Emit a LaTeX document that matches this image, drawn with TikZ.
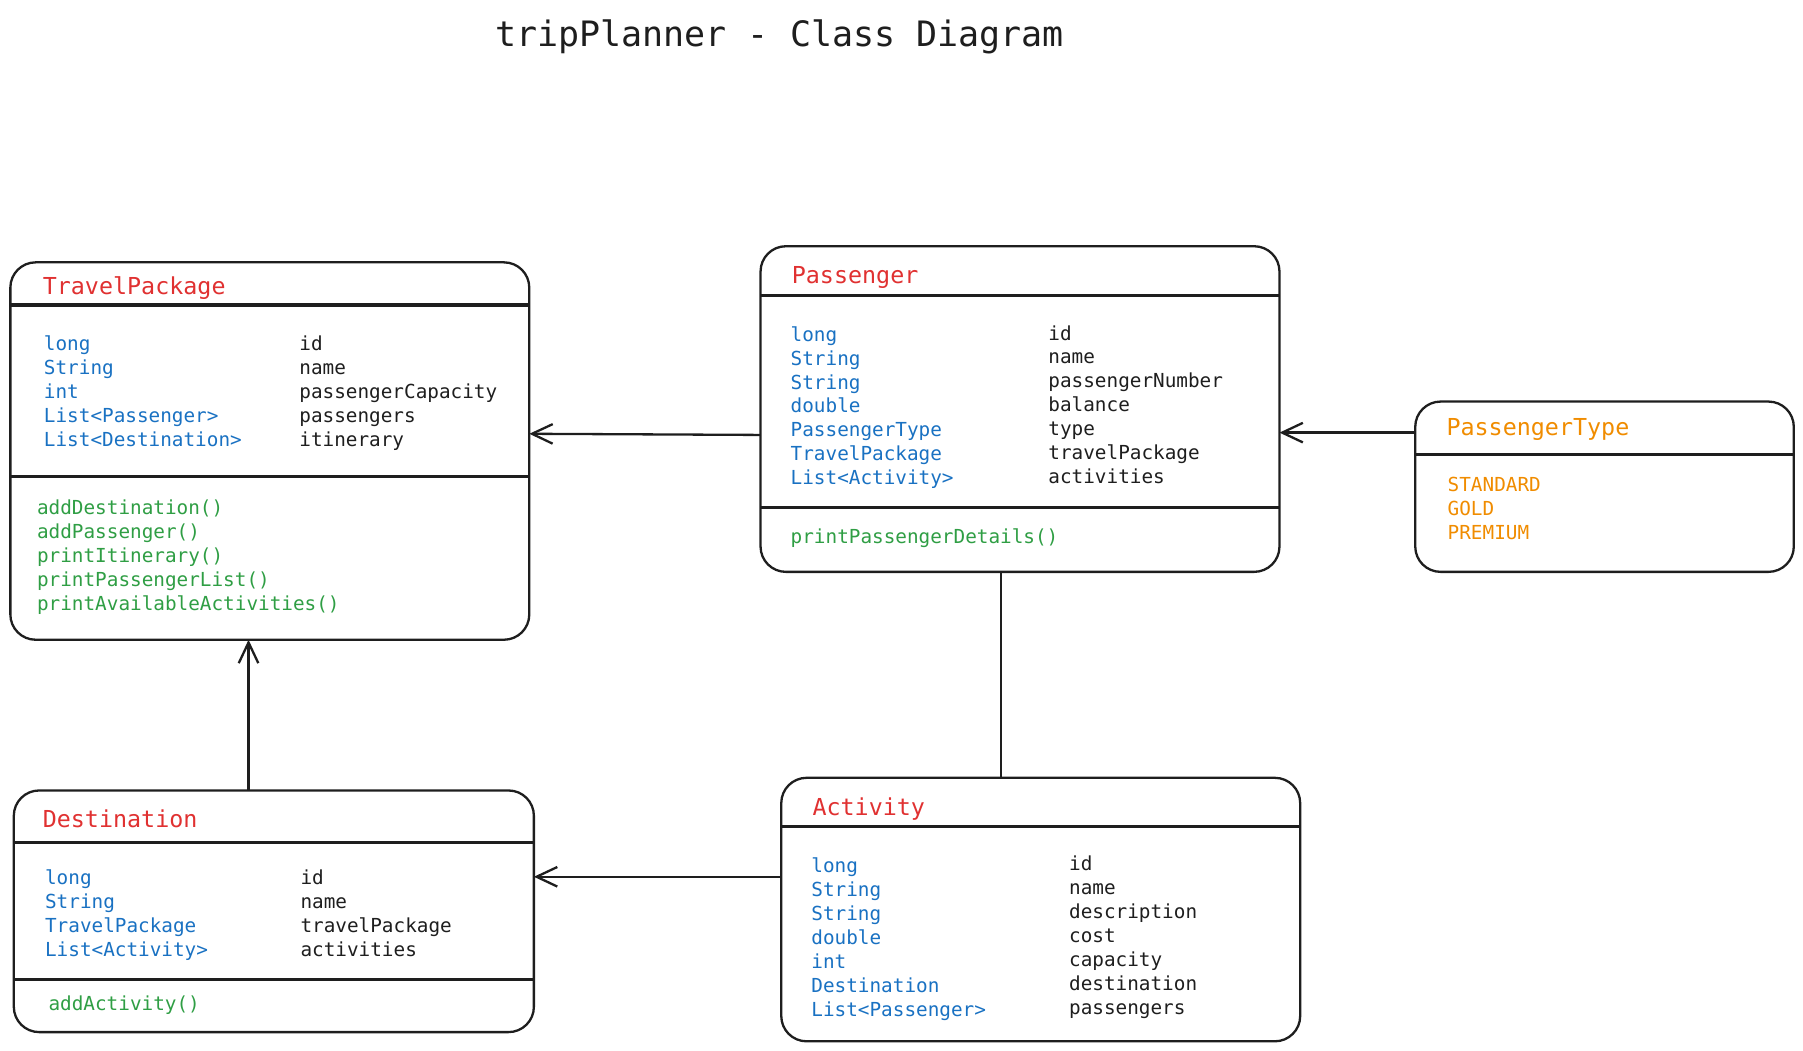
\documentclass[tikz,border=0pt]{standalone}
\usepackage{fontspec}
\newfontfamily\monofam{DejaVu Sans Mono}
\usetikzlibrary{arrows.meta}
\definecolor{ink}{HTML}{1E1E1E}
\definecolor{cred}{HTML}{E03131}
\definecolor{cblue}{HTML}{1971C2}
\definecolor{cgreen}{HTML}{2F9E44}
\definecolor{corange}{HTML}{F08C00}
\begin{document}
\begin{tikzpicture}[x=1pt,y=-1pt,
  classbox/.style={draw=ink, line width=2pt, rounded corners=22pt, inner sep=0pt, outer sep=0pt, anchor=north west},
  divider/.style={draw=ink, line width=2.8pt},
  cname/.style={font=\monofam\fontsize{20.3}{24}\selectfont, anchor=base west, inner sep=0pt, text=cred, yshift=-1.8pt},
  body/.style={font=\monofam\fontsize{16.8}{21}\selectfont, anchor=base west, inner sep=0pt, yshift=-1.5pt},
  typ/.style={body, text=cblue},
  attr/.style={body, text=ink},
  meth/.style={body, text=cgreen},
  enumv/.style={body, text=corange},
  arr/.style={draw=ink, line width=2pt, -{Straight Barb[length=18pt,width=17pt,line width=2pt]}},
  link/.style={draw=ink, line width=2pt}
]
\useasboundingbox (0,0) rectangle (1567,913.4);

% title
\node[font=\monofam\fontsize{30.4}{36}\selectfont, anchor=base, text=ink, inner sep=0pt] (title) at (677.5,40) {tripPlanner - Class Diagram};

% ---------- TravelPackage ----------
\node[classbox, minimum width=451pt, minimum height=328pt] (tp) at (9,228) {};
\draw[divider] (9,265) -- (460,265);
\draw[divider] (9,414) -- (460,414);
\node[cname] (tpName) at (37,254) {TravelPackage};
\foreach \t [count=\i] in {long,String,int,List<Passenger>,List<Destination>}
  \node[typ] (tpT\i) at (38,{303+20.9*(\i-1)}) {\t};
\foreach \t [count=\i] in {id,name,passengerCapacity,passengers,itinerary}
  \node[attr] (tpA\i) at (260,{303+20.9*(\i-1)}) {\t};
\foreach \t [count=\i] in {addDestination(),addPassenger(),printItinerary(),printPassengerList(),printAvailableActivities()}
  \node[meth] (tpM\i) at (32,{446+20.7*(\i-1)}) {\t};

% ---------- Passenger ----------
\node[classbox, minimum width=451pt, minimum height=283pt] (pass) at (661,214) {};
\draw[divider] (661,257) -- (1112,257);
\draw[divider] (661,441) -- (1112,441);
\node[cname] (passName) at (688,245) {Passenger};
\foreach \t [count=\i] in {long,String,String,double,PassengerType,TravelPackage,List<Activity>}
  \node[typ] (pT\i) at (687,{295+20.8*(\i-1)}) {\t};
\foreach \t [count=\i] in {id,name,passengerNumber,balance,type,travelPackage,activities}
  \node[attr] (pA\i) at (911,{294+20.8*(\i-1)}) {\t};
\node[meth] (pM1) at (687,471) {printPassengerDetails()};

% ---------- PassengerType ----------
\node[classbox, minimum width=329pt, minimum height=148pt] (ptype) at (1230,349) {};
\draw[divider] (1230,395) -- (1559,395);
\node[cname, text=corange] (ptName) at (1257,377) {PassengerType};
\foreach \t [count=\i] in {STANDARD,GOLD,PREMIUM}
  \node[enumv] (ptV\i) at (1258,{426+20.9*(\i-1)}) {\t};

% ---------- Destination ----------
\node[classbox, minimum width=452pt, minimum height=210pt] (dest) at (12,687) {};
\draw[divider] (12,732) -- (464,732);
\draw[divider] (12,851) -- (464,851);
\node[cname] (destName) at (37,717) {Destination};
\foreach \t [count=\i] in {long,String,TravelPackage,List<Activity>}
  \node[typ] (dT\i) at (39,{767+20.9*(\i-1)}) {\t};
\foreach \t [count=\i] in {id,name,travelPackage,activities}
  \node[attr] (dA\i) at (261,{767+20.9*(\i-1)}) {\t};
\node[meth] (dM1) at (42,877) {addActivity()};

% ---------- Activity ----------
\node[classbox, minimum width=451pt, minimum height=229pt] (act) at (679,676) {};
\draw[divider] (679,718) -- (1130,718);
\node[cname] (actName) at (706,707) {Activity};
\foreach \t [count=\i] in {long,String,String,double,int,Destination,List<Passenger>}
  \node[typ] (aT\i) at (705,{757+20.8*(\i-1)}) {\t};
\foreach \t [count=\i] in {id,name,description,cost,capacity,destination,passengers}
  \node[attr] (aA\i) at (929,{755+20.8*(\i-1)}) {\t};

% ---------- connectors ----------
\draw[arr] ([yshift=-22.5pt]pass.west) -- ([yshift=15pt]tp.east);
\draw[arr] ([yshift=47pt]ptype.west) -- ([yshift=-20.5pt]pass.east);
\draw[arr] ([xshift=-22pt]dest.north) -- ([xshift=-18.5pt]tp.south);
\draw[arr] ([yshift=28.5pt]act.west) -- ([yshift=30pt]dest.east);
\draw[link] ([xshift=-16.5pt]pass.south) -- ([xshift=-34.5pt]act.north);
\end{tikzpicture}
\end{document}
